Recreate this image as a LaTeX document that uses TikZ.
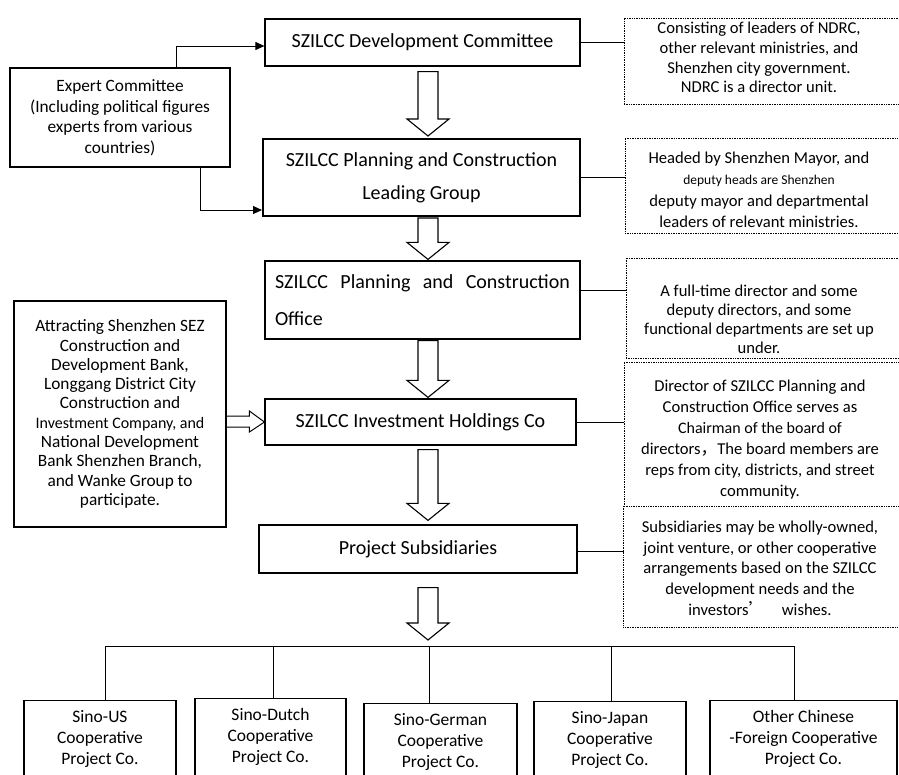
\documentclass[tikz,border=0pt]{standalone}
\usepackage{fontspec}
\setmainfont{Carlito}
\newfontfamily\cjk{Noto Sans CJK SC}
\usetikzlibrary{calc,arrows.meta}
\tikzset{
  box/.style={draw, line width=1.2pt, inner sep=0pt, align=center, font=\fontsize{20}{22}\selectfont},
  sidebox/.style={draw, line width=1.1pt, inner sep=0pt, align=center, font=\fontsize{17.3}{20.5}\selectfont},
  botbox/.style={draw, line width=1.1pt, inner sep=0pt, align=center, anchor=north, inner ysep=10pt, text depth=60pt, font=\fontsize{17.5}{21}\selectfont},
  note/.style={draw, densely dotted, line width=0.7pt, inner sep=0pt},
  noteplain/.style={inner sep=0pt},
  notetext/.style={align=center, inner sep=0pt},
  dotline/.style={densely dotted, line width=0.7pt},
  conn/.style={line width=1pt},
  blk/.style={line width=1.1pt, fill=white},
  tip/.style={-{Triangle[length=9pt,width=8pt]}}
}
\newcommand\blockdown[2]{%
  \draw[blk] ($(#1)+(-10,0)$) -- ($(#2)+(-10,-17)$) -- ($(#2)+(-21,-17)$) -- (#2)
    -- ($(#2)+(21,-17)$) -- ($(#2)+(10,-17)$) -- ($(#1)+(10,0)$) -- cycle;}
\begin{document}
\begin{tikzpicture}[x=1pt,y=-1pt]
\useasboundingbox (0,0) rectangle (899,774);
\clip (0,0) rectangle (899,774);
\fill[white] (0,0) rectangle (899,774);

% main column
\node[box, minimum width=315pt, minimum height=47pt] (dev) at (422.5,42.5) {SZILCC Development Committee};
\node[box, line width=2pt, minimum width=317pt, minimum height=77pt, font=\fontsize{20}{33}\selectfont] (lead) at (421.5,177.5) {SZILCC Planning and Construction\\[0pt]Leading Group};
\node[box, minimum width=315pt, minimum height=78pt, align=left, font=\fontsize{20}{37}\selectfont] (office) at (422.5,300) {\makebox[295pt][s]{SZILCC Planning and Construction}\\Office};
\node[box, minimum width=311pt, minimum height=46pt] (invest) at (420.5,422) {SZILCC Investment Holdings Co};
\node[box, minimum width=318pt, minimum height=48pt] (subs) at (418,549) {Project Subsidiaries};

% left boxes
\node[sidebox, minimum width=220pt, minimum height=99pt] (expert) at (120,117.5) {Expert Committee\\(Including political figures\\experts from various\\countries)};
\node[sidebox, minimum width=212pt, minimum height=226pt, font=\fontsize{17.3}{19.3}\selectfont] (attract) at (120,414) {Attracting Shenzhen SEZ\\Construction and\\Development Bank,\\Longgang District City\\Construction and\\{\fontsize{16}{19.3}\selectfont Investment Company, and}\\National Development\\Bank Shenzhen Branch,\\and Wanke Group to\\participate.};

% notes
\node[note, minimum width=281pt, minimum height=86pt] (n1) at (764.5,61) {};
\node[notetext, font=\fontsize{16.6}{19.6}\selectfont] (n1t) at (759,57.5) {Consisting of leaders of NDRC,\\other relevant ministries, and\\Shenzhen city government.\\NDRC is a director unit.};
\node[note, minimum width=280pt, minimum height=95pt] (n2) at (765,185.5) {};
\node[notetext, font=\fontsize{16.6}{21.5}\selectfont] (n2t) at (759,190) {Headed by Shenzhen Mayor, and\\{\fontsize{13.5}{21.5}\selectfont deputy heads are Shenzhen}\\deputy mayor and departmental\\leaders of relevant ministries.};
\node[note, minimum width=279pt, minimum height=100pt] (n3) at (765.5,308) {};
\node[notetext, font=\fontsize{16.6}{19}\selectfont] (n3t) at (759,319) {A full-time director and some\\deputy directors, and some\\functional departments are set up\\under.};
\node[note, minimum width=281pt, minimum height=144pt] (n4) at (764.5,434) {};
\node[notetext, font=\fontsize{16.6}{21}\selectfont] (n4t) at (760,440) {Director of SZILCC Planning and\\Construction Office serves as\\{\fontsize{16}{21}\selectfont Chairman of the board of}\\directors{\cjk ，}The board members are\\reps from city, districts, and street\\community.};
\node[noteplain, minimum width=281pt, minimum height=121pt] (n5) at (764.5,566.5) {};
\draw[dotline] (n5.north west) -- (n5.south west) -- (n5.south east);
\node[notetext, font=\fontsize{16.6}{20.7}\selectfont] (n5t) at (760,568) {Subsidiaries may be wholly-owned,\\joint venture, or other cooperative\\arrangements based on the SZILCC\\development needs and the\\investors{\cjk ’}\quad wishes.};

% note connectors
\draw[conn] (dev.east) -- (dev.east -| n1.west);
\draw[conn] (lead.east) -- (lead.east -| n2.west);
\draw[conn] ($(office.east)+(0,-10)$) -- ($(office.east -| n3.west)+(0,-10)$);
\draw[conn] (invest.east) -- (invest.east -| n4.west);
\draw[conn] ($(subs.east)+(0,2)$) -- ($(subs.east -| n5.west)+(0,2)$);

% expert committee connectors
\coordinate (ea) at (176,46);
\coordinate (eb) at (200,210);
\draw[conn, tip] (expert.north -| ea) -- (ea) -- (ea -| dev.west);
\draw[conn, tip] (expert.south -| eb) -- (eb) -- (eb -| lead.west);

% block arrows down the column
\coordinate (ax) at (428,0);
\coordinate (a1s) at ($(dev.south -| ax)+(0,5)$);
\coordinate (a1t) at ($(lead.north -| ax)+(0,-2)$);
\coordinate (a2s) at ($(lead.south -| ax)+(0,1)$);
\coordinate (a2t) at ($(office.north -| ax)+(0,-1)$);
\coordinate (a3s) at ($(office.south -| ax)+(0,1)$);
\coordinate (a3t) at ($(invest.north -| ax)+(0,-1)$);
\coordinate (a4s) at ($(invest.south -| ax)+(0,4)$);
\coordinate (a4t) at ($(subs.north -| ax)+(0,-4)$);
\coordinate (a5s) at ($(subs.south -| ax)+(0,14)$);
\coordinate (a5t) at (428,640);
\blockdown{a1s}{a1t}
\blockdown{a2s}{a2t}
\blockdown{a3s}{a3t}
\blockdown{a4s}{a4t}
\blockdown{a5s}{a5t}

% hollow arrow from attract to invest
\coordinate (ht) at (invest.west);
\coordinate (hu) at ($(ht)+(-15,-6)$);
\coordinate (hl) at ($(ht)+(-15,5)$);
\draw[line width=1pt] (hu -| attract.east) -- (hu) -- ($(ht)+(-15,-11)$) -- (ht) -- ($(ht)+(-15,10)$) -- (hl) -- (hl -| attract.east);

% bottom boxes
\node[botbox, minimum width=152pt] (us) at (100,700) {Sino-US\\Cooperative\\Project Co.};
\node[botbox, minimum width=151pt] (nl) at (270.5,698) {Sino-Dutch\\Cooperative\\Project Co.};
\node[botbox, minimum width=153pt] (de) at (440.5,703) {Sino-German\\Cooperative\\Project Co.};
\node[botbox, minimum width=152pt] (jp) at (610,701) {Sino-Japan\\Cooperative\\Project Co.};
\node[botbox, minimum width=187pt] (ot) at (803.5,700) {Other Chinese\\-Foreign Cooperative\\Project Co.};

% bus
\coordinate (b1) at (105,646);
\coordinate (b2) at (273,646);
\coordinate (b3) at (429,646);
\coordinate (b4) at (611,646);
\coordinate (b5) at (794,646);
\draw[conn] (b1) -- (b5);
\draw[conn] (b1) -- (b1 |- us.north);
\draw[conn] (b2) -- (b2 |- nl.north);
\draw[conn] (b3) -- (b3 |- de.north);
\draw[conn] (b4) -- (b4 |- jp.north);
\draw[conn] (b5) -- (b5 |- ot.north);
\end{tikzpicture}
\end{document}
